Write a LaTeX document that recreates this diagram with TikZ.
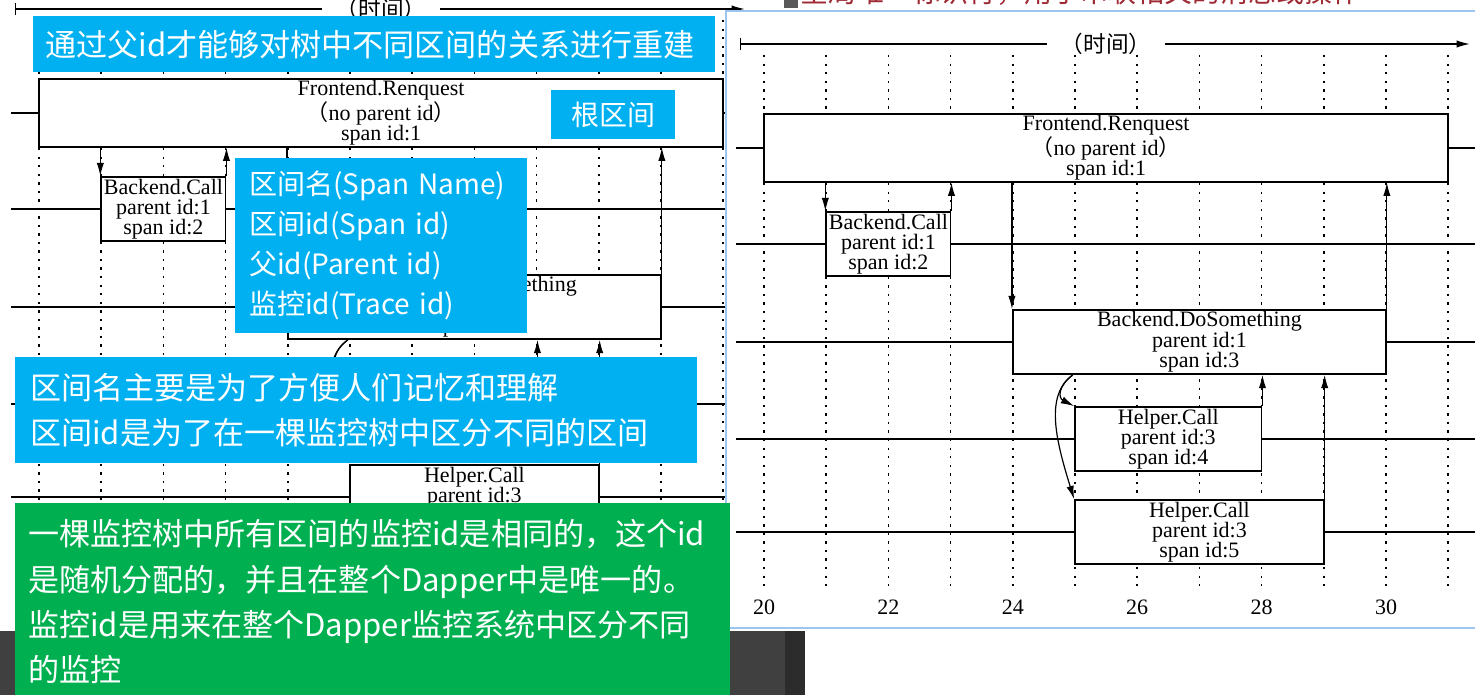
\documentclass[tikz,border=0pt]{standalone}
\usepackage{fontspec}
\setmainfont{Liberation Serif}
\newfontfamily\cjk{Noto Sans CJK SC}
\usetikzlibrary{arrows.meta}
\definecolor{callblue}{RGB}{0,176,240}
\definecolor{callgreen}{RGB}{0,176,80}
\definecolor{winedge}{HTML}{9CC6EF}
\definecolor{desk}{HTML}{404040}
\definecolor{deskdark}{HTML}{2C2C2C}
\definecolor{slidered}{HTML}{9E2A33}
\newif\ifticklabels

% one copy of the span timeline, x in time units, y in pixels
\newcommand\tracediagram{%
\begin{scope}[shift={(-480,0)}, x=46.65pt]
  % time axis
  \coordinate (t0) at (19.61,44);
  \coordinate (t1) at (31.35,44);
  \node[axislabel] (tlab) at (25.5,44) {（时间）};
  \draw[axis, {Bar[width=9pt]}-] (t0) -- (tlab.west);
  \draw[axis, -{Latex[length=10pt,width=5.5pt]}] (tlab.east) -- (t1);
  \foreach \tm in {20,...,31}
    \draw[tick] (\tm,55) -- (\tm,592);
  \ifticklabels
  \foreach \tm in {20,22,...,30}
    \node[num] (n\tm) at (\tm,607) {\tm};
  \fi
  % spans
  \node[span, minimum width=11*46.65pt] (fe) at (25.5,148) {Frontend.Renquest\\{\cjk （}no parent id{\cjk ）}\\span id:1};
  \node[span, minimum width=2*46.65pt] (bc) at (22,244) {Backend.Call\\parent id:1\\span id:2};
  \node[span, minimum width=6*46.65pt] (ds) at (27,342) {Backend.DoSomething\\parent id:1\\span id:3};
  \node[span, minimum width=3*46.65pt] (h4) at (26.5,439) {Helper.Call\\parent id:3\\span id:4};
  \node[span, minimum width=4*46.65pt] (h5) at (27,532) {Helper.Call\\parent id:3\\span id:5};
  \coordinate (lft) at (19.55,0);
  \coordinate (rgt) at (31.6,0);
  \foreach \bx in {fe,bc,ds,h4,h5}{
    \draw[lane] (\bx.west -| lft) -- (\bx.west);
    \draw[lane] (\bx.east) -- (\bx.east -| rgt);
  }
  % calls and returns
  \draw[call] (bc.north west |- fe.south) -- (bc.north west);
  \draw[call] (bc.north east) -- (bc.north east |- fe.south);
  \draw[call] (ds.north west |- fe.south) -- (ds.north west);
  \draw[call] (ds.north east) -- (ds.north east |- fe.south);
  \coordinate (fork) at ([xshift=-1pt]h4.north west |- ds.south);
  \draw[call] (fork) .. controls +(-0.25,12) and +(-0.25,-8) .. (h4.north west);
  \draw[call] (fork) .. controls +(-0.45,20) and +(-0.3,-60) .. (h5.north west);
  \draw[call] (h4.north east) -- (h4.north east |- ds.south);
  \draw[call] (h5.north east) -- (h5.north east |- ds.south);
\end{scope}}

\begin{document}
\begin{tikzpicture}[
  x=0.75pt, y=-0.75pt,
  span/.style={draw, fill=white, line width=1.3pt, inner sep=1pt, minimum height=48pt, align=center, font={\fontsize{16.5pt}{15pt}\selectfont}},
  lane/.style={line width=1.2pt},
  tick/.style={line width=1.3pt, dash pattern=on 1.8pt off 4.6pt},
  call/.style={line width=0.9pt, -{Latex[length=10pt,width=5.5pt]}},
  axis/.style={line width=1.1pt},
  axislabel/.style={font={\cjk\fontsize{17pt}{17pt}\selectfont}, inner xsep=10pt},
  num/.style={font={\fontsize{16.5pt}{15pt}\selectfont}},
  callout/.style={anchor=north west, text=white, align=left, inner ysep=0pt},
  bigcall/.style={font={\cjk\fontsize{23.3pt}{34pt}\selectfont}},
  smallcall/.style={font={\cjk\fontsize{21pt}{30pt}\selectfont}},
]
\useasboundingbox (0,0) rectangle (1475,695);
\clip (0,0) rectangle (1475,695);
\fill[white] (0,0) rectangle (1475,695);

% enlarged slide copy behind the window
\begin{scope}[shift={(-725,-35)}, name prefix=L-]
  \tracediagram
\end{scope}

% desk below the slide
\fill[desk] (0,631) rectangle (785,695);
\fill[deskdark] (785,631) rectangle (805,695);

% cut-off line of the slide above the window
\fill[gray!70!black] (784,0) rectangle (798,8);
\node[anchor=base west, inner sep=0pt, text=slidered, font={\cjk\fontsize{21pt}{21pt}\selectfont}] (hint) at (800,3) {全局唯一标识符，用于串联相关的消息或操作};

% window with the original figure
\filldraw[fill=white, draw=winedge, line width=1.5pt] (726,11) rectangle (1490,628);
\ticklabelstrue
\tracediagram

% callouts
\node[callout, bigcall, fill=callblue, text width=493.5pt, inner xsep=9pt, minimum height=42pt] (rebuild) at (33,16) {通过父id才能够对树中不同区间的关系进行重建};
\node[callout, smallcall, fill=callblue, align=center, inner xsep=0pt, minimum width=93pt, minimum height=36.75pt] (root) at (551,90) {根区间};
\node[callout, smallcall, fill=callblue, text width=198pt, inner xsep=10.5pt, minimum height=131.25pt] (fields) at (235,158) {区间名(Span~Name)\\区间id(Span~id)\\父id(Parent~id)\\监控id(Trace~id)};
\node[callout, bigcall, fill=callblue, text width=489pt, inner xsep=11.25pt, minimum height=79.5pt] (purpose) at (15,357) {区间名主要是为了方便人们记忆和理解\\区间id是为了在一棵监控树中区分不同的区间};
\node[callout, bigcall, fill=callgreen, text width=516.75pt, inner xsep=9.75pt, minimum height=147.75pt] (traceid) at (15,503) {一棵监控树中所有区间的监控id是相同的，这个id\\是随机分配的，并且在整个Dapper中是唯一的。\\监控id是用来在整个Dapper监控系统中区分不同\\的监控};
\end{tikzpicture}
\end{document}
